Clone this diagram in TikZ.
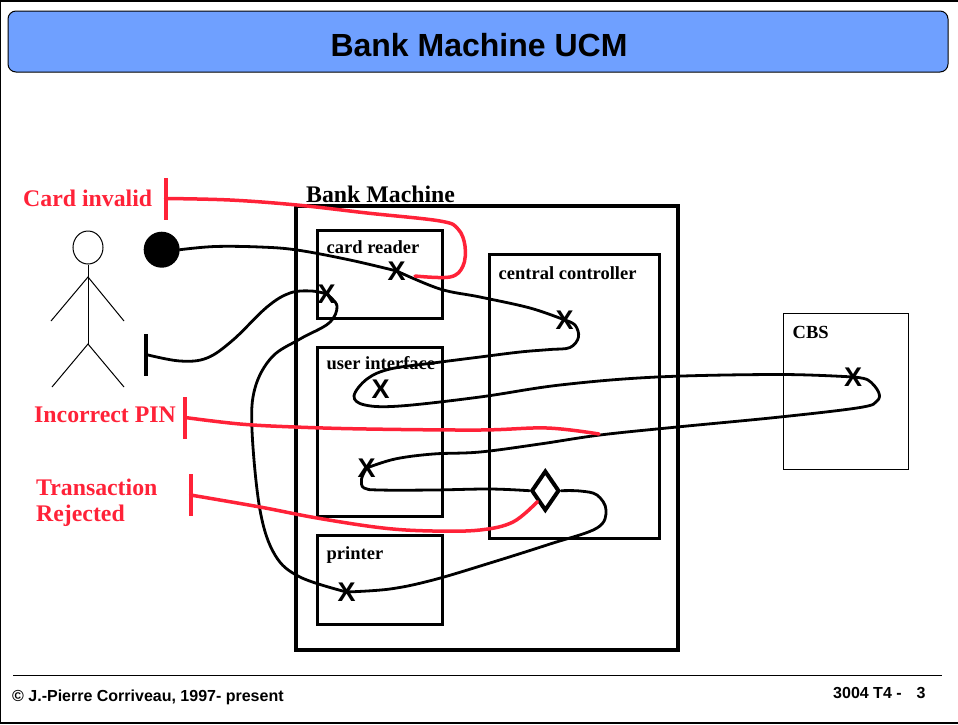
\documentclass[tikz,border=0pt]{standalone}
\usepackage{fontspec}
\setmainfont{Liberation Serif}
\setsansfont{Liberation Sans}
\usetikzlibrary{shapes.geometric}
\definecolor{ucmred}{HTML}{FF2238}
\definecolor{titleblue}{HTML}{6FA0FF}
\begin{document}
\begin{tikzpicture}[x=1pt,y=-1pt,
            comp/.style = {draw,line width=3pt},
            complabel/.style = {anchor=base west,inner sep=0pt,font=\fontsize{18.5}{20}\selectfont\bfseries},
            redlabel/.style = {anchor=base west,inner sep=0pt,text=ucmred,align=left,
                font=\fontsize{23.8}{26}\selectfont\bfseries},
            footlabel/.style = {anchor=base west,inner sep=0pt,font=\fontsize{16}{18}\selectfont\sffamily\bfseries},
            resp/.style = {inner sep=0pt,font=\fontsize{27}{27}\selectfont\sffamily\bfseries},
            endbar/.style = {fill=black,inner sep=0pt,minimum width=4pt,minimum height=42pt},
            redbar/.style = {endbar,fill=ucmred},
            ucm/.style = {line width=2.8pt,line cap=round},
            ucmfail/.style = {ucm,draw=ucmred,line width=3.5pt}]
            \useasboundingbox (0,0) rectangle (958,724);
            \draw[line width=2pt] (958,1) -- (0,1);
            \draw[line width=2pt] (0,0) -- (0,724);
            \draw[line width=2pt] (0,723) -- (958,723);
            \node[draw,fill=titleblue,rounded corners=8pt,minimum width=940pt,minimum height=61pt,inner sep=0pt,line width=1pt] (titlebar) at (478,41.5) {};
            \node[inner sep=0pt,anchor=base,font=\fontsize{32}{32}\selectfont\sffamily\bfseries] (title) at (479,56.5) {Bank Machine UCM};
            \draw[line width=1pt] (13,675) -- (942,675);
            \node[footlabel] (copyright) at (12,701) {© J.-Pierre Corriveau, 1997- present};
            \node[footlabel] (slide) at (833,698) {3004 T4 -\hspace{15pt}3};
            \draw[line width=4pt] (296,206) rectangle (678,650);
            \node[anchor=base west,inner sep=0pt,font=\fontsize{23.8}{26}\selectfont\bfseries] (bank) at (306,202) {Bank Machine};
            \draw[comp] (317,230) rectangle (442,318);
            \draw[comp] (317,347) rectangle (442,516);
            \draw[comp] (317,535) rectangle (442,624);
            \draw[comp] (489.5,254) rectangle (659,538);
            \draw[line width=1pt] (783,313) rectangle (908,469);
            \node[complabel] (reader) at (326.5,253) {card reader};
            \node[complabel] (ui) at (326.5,369.5) {user interface};
            \node[complabel] (printer) at (326.5,559.5) {printer};
            \node[complabel] (central) at (498.5,279) {central controller};
            \node[complabel] (cbs) at (792.5,338) {CBS};
            \node[draw,ellipse,line width=1pt,minimum width=30pt,minimum height=33pt,inner sep=0pt] (head) at (88,247.5) {};
            \coordinate (neck) at (88,277);
            \coordinate (hip) at (88,344);
            \draw[line width=1pt] (head.south) -- (hip);
            \draw[line width=1pt] (51,321) -- (neck) -- (124,321);
            \draw[line width=1pt] (52,387) -- (hip) -- (124,387);
            \node[circle,fill=black,minimum size=36pt,inner sep=0pt] (start) at (161.7,249.7) {};
            \node[endbar] (finish) at (146,354.5) {};
            \node[redbar] (invalid) at (165.5,198.5) {};
            \node[redbar] (pinbar) at (185,417.5) {};
            \node[redbar] (rejbar) at (190.5,495) {};
            \node[redlabel] (cardinvalid) at (23,206) {Card invalid};
            \node[redlabel] (incorrect) at (34,422) {Incorrect PIN};
            \node[redlabel,anchor=north west] (rejected) at (36,479) {Transaction\\Rejected};
            \node[resp] (x1) at (396.7,271) {X};
            \node[resp] (x2) at (326.5,294) {X};
            \node[resp] (x3) at (564.7,320) {X};
            \node[resp] (x4) at (380.7,389.5) {X};
            \node[resp] (x5) at (853,377) {X};
            \node[resp] (x6) at (366.7,468) {X};
            \node[resp] (x7) at (346.5,592) {X};
            \node[diamond,draw,line width=4pt,fill=white,inner sep=0pt,minimum width=28pt,minimum height=40pt] (orfork) at (545.3,490.7) {};
            \coordinate (failone) at (415,276);
            \coordinate (failtwo) at (599,434);
            \draw[ucm] plot[smooth,tension=.6] coordinates {(start.east) (215,246.5) (260,247) (297,250) (350,260) (x1.center)};
            \draw[ucm] plot[smooth,tension=.6] coordinates {(x1.center) (440,289) (480,297) (530,308) (x3.center)};
            \draw[ucm] plot[smooth,tension=.6] coordinates {(x3.center) (575,325) (578.5,337) (570,347.5) (550,349.5) (520,352) (480,357) (433,363) (390,369) (367,379) (354,396) (365,405) (400,406) (480,397) (560,385) (657,377) (780,374.5) (x5.center)};
            \draw[ucm] plot[smooth,tension=.6] coordinates {(x5.center) (868,380) (878.5,392) (877,401) (860,407.5) (780,417) (677,427) (600,435) (540,444) (480,452) (433,454) (395,459) (x6.center)};
            \draw[ucm] plot[smooth,tension=.6] coordinates {(x6.center) (361.5,479) (364,488) (380,490) (433,490) (490,489) (orfork.west)};
            \draw[ucm] plot[smooth,tension=.6] coordinates {(orfork.east) (580,491) (597,495) (606,510) (597,528) (550,544) (490,563) (433,580) (390,589) (x7.center)};
            \draw[ucm] plot[smooth,tension=.6] coordinates {(x7.center) (300,577) (275,555) (260,510) (252,430) (255,388) (272,357) (300,339) (329,323) (337,306) (x2.center)};
            \draw[ucm] plot[smooth,tension=.6] coordinates {(x2.center) (312,291) (290,293) (267,307) (233,340) (207,358) (180,361) (finish.center)};
            \draw[ucmfail] plot[smooth,tension=.6] coordinates {(invalid.center) (230,200) (297,205) (367,213) (440,221) (458,229) (465,246) (463,266) (450,277) (failone)};
            \draw[ucmfail] plot[smooth,tension=.6] coordinates {(pinbar.center) (240,424) (295,427) (367,429) (480,430) (547,428) (failtwo)};
            \draw[ucmfail] plot[smooth,tension=.6] coordinates {(rejbar.center) (260,507) (317,518) (383,528) (433,531) (480,530) (513,522) (orfork.south west)};
        \end{tikzpicture}
\end{document}
